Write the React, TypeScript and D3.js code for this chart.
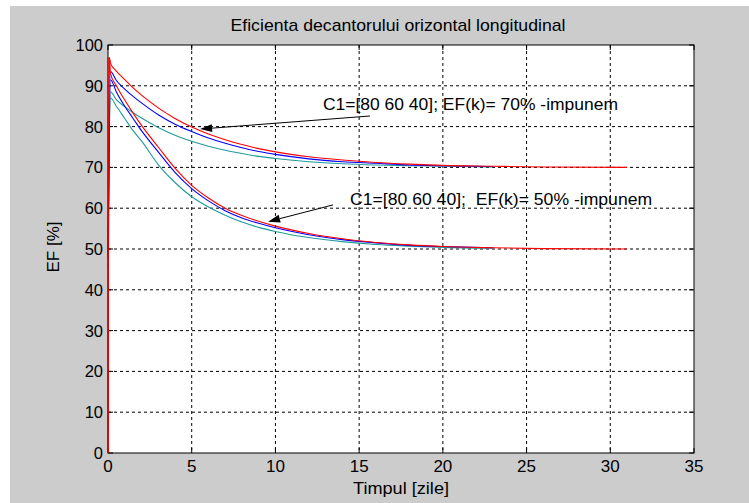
import React from "react";
import * as d3 from "d3";

const title = "Eficienta decantorului orizontal longitudinal";
const xLabel = "Timpul [zile]";
const yLabel = "EF [%]";
const xTicks = [0, 5, 10, 15, 20, 25, 30, 35];
const yTicks = [0, 10, 20, 30, 40, 50, 60, 70, 80, 90, 100];

const tRedUp = [0, 0.08, 0.15, 0.5, 1, 1.5, 2, 3, 4, 5, 6, 7, 8, 9, 10, 12, 14, 16, 18, 20, 23, 26, 31];
const efRedUp = [0, 97, 95.5, 93.6, 91.5, 89.5, 87.7, 84.6, 82.0, 79.9, 78.2, 76.8, 75.6, 74.6, 73.8, 72.6, 71.8, 71.2, 70.8, 70.5, 70.3, 70.1, 70.0];

const tBlueUp = [0, 0.15, 0.5, 1, 1.5, 2, 3, 4, 5, 6, 7, 8, 9, 10, 12, 14, 16, 18, 20, 23];
const efBlueUp = [48, 93.5, 91.3, 89.2, 87.4, 85.8, 82.9, 80.6, 78.8, 77.2, 75.9, 74.8, 73.9, 73.2, 72.1, 71.4, 71.0, 70.6, 70.4, 70.2];

const tTealUp = [0, 0.15, 0.5, 1, 1.5, 2, 3, 4, 5, 6, 7, 8, 9, 10, 12, 14, 16, 18, 20, 23];
const efTealUp = [45, 88.5, 86.6, 84.9, 83.4, 82.1, 79.8, 77.9, 76.4, 75.2, 74.2, 73.4, 72.7, 72.2, 71.4, 70.9, 70.6, 70.4, 70.3, 70.1];

const tRedLow = [0, 0.08, 0.15, 0.5, 1, 1.5, 2, 3, 4, 5, 6, 7, 8, 9, 10, 12, 14, 16, 18, 20, 23, 26, 31];
const efRedLow = [0, 97, 93, 90, 86.5, 83.3, 80.3, 75, 69.8, 65.6, 62.5, 60, 58.2, 56.8, 55.6, 53.8, 52.5, 51.6, 51.0, 50.6, 50.3, 50.1, 50.0];

const tBlueLow = [0, 0.15, 0.5, 1, 1.5, 2, 3, 4, 5, 6, 7, 8, 9, 10, 12, 14, 16, 18, 20, 23];
const efBlueLow = [48, 91.5, 88.5, 85, 82, 79, 73.8, 68.8, 64.8, 61.8, 59.4, 57.6, 56.3, 55.2, 53.5, 52.3, 51.5, 50.9, 50.6, 50.3];

const tTealLow = [0, 0.15, 0.5, 1, 1.5, 2, 3, 4, 5, 6, 7, 8, 9, 10, 12, 14, 16, 18, 20, 23];
const efTealLow = [45, 87, 85, 82, 79, 76.5, 70.7, 66.3, 62.8, 60.3, 58.3, 56.6, 55.3, 54.3, 52.8, 51.8, 51.1, 50.7, 50.4, 50.2];

const series = [
  { t: tTealUp, v: efTealUp, color: "#1f9b9b" },
  { t: tTealLow, v: efTealLow, color: "#1f9b9b" },
  { t: tBlueUp, v: efBlueUp, color: "#0000ff" },
  { t: tBlueLow, v: efBlueLow, color: "#0000ff" },
  { t: tRedUp, v: efRedUp, color: "#ff0000" },
  { t: tRedLow, v: efRedLow, color: "#ff0000" },
];

const annText1 = "C1=[80 60 40]; EF(k)= 70% -impunem";
const annText2 = "C1=[80 60 40];  EF(k)= 50% -impunem";
// annotation anchors in data coordinates
const ann1 = { tx: 12.84, ty: 84.0, fromX: 15.65, fromY: 82.6, toX: 5.5, toY: 79.4 };
const ann2 = { tx: 14.46, ty: 60.8, fromX: 13.44, fromY: 60.8, toX: 9.56, toY: 56.7 };

const W = 749;
const H = 503;
const L = 108, R = 694, T = 45, B = 453;

export default function App() {
  const x = d3.scaleLinear().domain([0, 35]).range([L, R]);
  const y = d3.scaleLinear().domain([0, 100]).range([B, T]);
  const font = "'Liberation Sans', Arial, sans-serif";
  const fs = 17;
  const line = d3
    .line<[number, number]>()
    .x((d) => x(d[0]))
    .y((d) => y(d[1]))
    .curve(d3.curveMonotoneX);

  const arrow = (fx: number, fy: number, tx: number, ty: number) => {
    const x1 = x(fx), y1 = y(fy), x2 = x(tx), y2 = y(ty);
    const ang = Math.atan2(y2 - y1, x2 - x1);
    const len = 12, wid = 4;
    const bx = x2 - len * Math.cos(ang), by = y2 - len * Math.sin(ang);
    const px = -Math.sin(ang) * wid, py = Math.cos(ang) * wid;
    return (
      <g>
        <line x1={x1} y1={y1} x2={bx} y2={by} stroke="#000" strokeWidth={1} />
        <polygon points={`${x2},${y2} ${bx + px},${by + py} ${bx - px},${by - py}`} fill="#000" />
      </g>
    );
  };

  return (
    <div style={{ position: "fixed", left: 0, top: 0 }}>
      <svg width={W} height={H} style={{ display: "block" }}>
        <rect x={0} y={0} width={W} height={H} fill="#ffffff" />
        <rect x={10} y={6} width={W - 10} height={H - 6} fill="#cccccc" />
        <rect x={L} y={T} width={R - L} height={B - T} fill="#ffffff" />
        {/* grid */}
        {xTicks.slice(1, -1).map((t) => (
          <line key={"gx" + t} x1={x(t)} x2={x(t)} y1={T} y2={B} stroke="#000" strokeWidth={1} strokeDasharray="3,3" />
        ))}
        {yTicks.slice(1, -1).map((t) => (
          <line key={"gy" + t} x1={L} x2={R} y1={y(t)} y2={y(t)} stroke="#000" strokeWidth={1} strokeDasharray="3,3" />
        ))}
        {/* ticks */}
        {xTicks.map((t) => (
          <g key={"tx" + t}>
            <line x1={x(t)} x2={x(t)} y1={B} y2={B - 5} stroke="#000" />
            <line x1={x(t)} x2={x(t)} y1={T} y2={T + 5} stroke="#000" />
            <text x={x(t)} y={B + 19} textAnchor="middle" fontFamily={font} fontSize={fs} fill="#000">
              {t}
            </text>
          </g>
        ))}
        {yTicks.map((t) => (
          <g key={"ty" + t}>
            <line x1={L} x2={L + 5} y1={y(t)} y2={y(t)} stroke="#000" />
            <line x1={R} x2={R - 5} y1={y(t)} y2={y(t)} stroke="#000" />
            <text x={L - 5} y={y(t) + 6} textAnchor="end" fontFamily={font} fontSize={fs - 0.5} fill="#000">
              {t}
            </text>
          </g>
        ))}
        {/* series */}
        {series.map((s, i) => (
          <path
            key={"s" + i}
            d={line(s.t.map((t, j) => [t, s.v[j]] as [number, number])) || ""}
            fill="none"
            stroke={s.color}
            strokeWidth={1.1}
          />
        ))}
        {/* axes box */}
        <rect x={L} y={T} width={R - L} height={B - T} fill="none" stroke="#000" strokeWidth={1} />
        <line x1={L} x2={L} y1={y(0)} y2={y(97)} stroke="#ff0000" strokeWidth={1.5} />
        {/* annotations */}
        {arrow(ann1.fromX, ann1.fromY, ann1.toX, ann1.toY)}
        <text x={x(ann1.tx)} y={y(ann1.ty)} fontFamily={font} fontSize={fs} fill="#000" style={{ whiteSpace: "pre" }} textLength={295} lengthAdjust="spacingAndGlyphs">
          {annText1}
        </text>
        {arrow(ann2.fromX, ann2.fromY, ann2.toX, ann2.toY)}
        <text x={x(ann2.tx)} y={y(ann2.ty)} fontFamily={font} fontSize={fs} fill="#000" style={{ whiteSpace: "pre" }} textLength={302} lengthAdjust="spacingAndGlyphs">
          {annText2}
        </text>
        {/* labels */}
        <text x={398} y={31} textAnchor="middle" fontFamily={font} fontSize={fs} fill="#000" textLength={335} lengthAdjust="spacingAndGlyphs">
          {title}
        </text>
        <text x={(L + R) / 2} y={494} textAnchor="middle" fontFamily={font} fontSize={fs} fill="#000" textLength={96} lengthAdjust="spacingAndGlyphs">
          {xLabel}
        </text>
        <text
          x={0}
          y={0}
          transform={`translate(59, 247) rotate(-90)`}
          textAnchor="middle"
          fontFamily={font}
          fontSize={fs}
          fill="#000"
        >
          {yLabel}
        </text>
      </svg>
    </div>
  );
}
